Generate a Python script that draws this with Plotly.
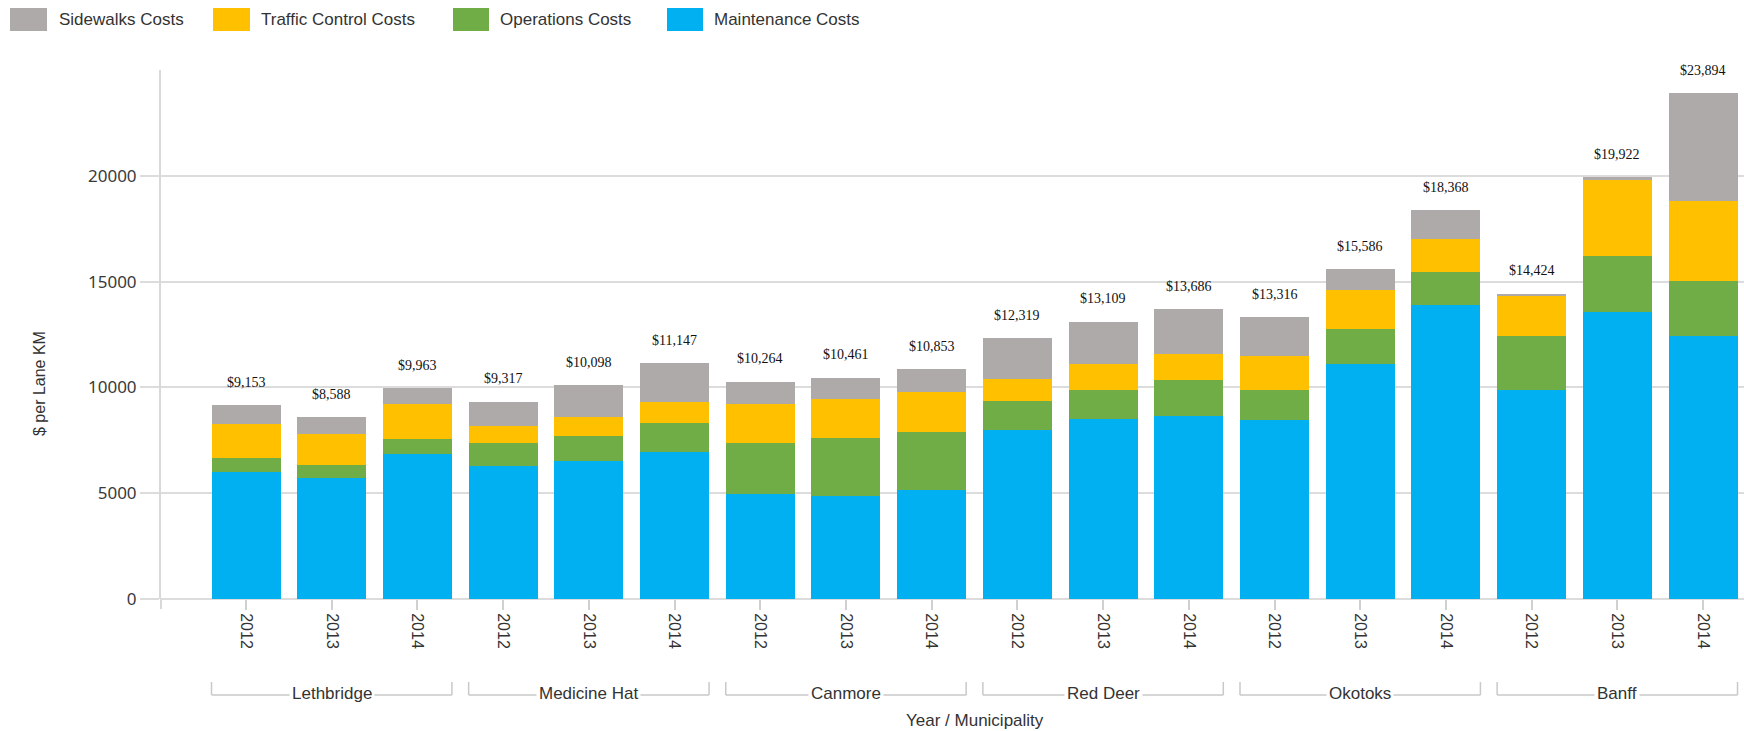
import plotly.graph_objects as go

# ---- data -------------------------------------------------------------
municipalities = ["Lethbridge", "Medicine Hat", "Canmore", "Red Deer", "Okotoks", "Banff"]
years = ["2012", "2013", "2014"]

maintenance = [6000, 5740, 6870, 6280, 6510, 6950, 4950, 4880, 5140,
               8000, 8510, 8670, 8440, 11120, 13890, 9900, 13540, 12410]
operations = [680, 600, 680, 1100, 1210, 1370, 2420, 2750, 2750,
              1360, 1390, 1670, 1440, 1620, 1550, 2510, 2680, 2600]
traffic_control = [1570, 1480, 1650, 790, 880, 980, 1830, 1840, 1910,
                   1050, 1220, 1220, 1590, 1860, 1560, 1894, 3560, 3810]
sidewalks = [903, 768, 763, 1147, 1498, 1847, 1064, 991, 1053,
             1909, 1989, 2126, 1846, 986, 1368, 120, 142, 5074]

series = [
    ("Maintenance Costs", maintenance, "#00B0F0"),
    ("Operations Costs", operations, "#70AD47"),
    ("Traffic Control Costs", traffic_control, "#FFC000"),
    ("Sidewalks Costs", sidewalks, "#ADAAA9"),
]

# ---- geometry helpers ---------------------------------------------------
W, H = 1744, 731
L, R, T, B = 161, 0, 70, 132
PW, PH = W - L - R, H - T - B


def px(x):
    return (x - L) / PW


def py(y):
    return (H - B - y) / PH


n = len(maintenance)
xs = list(range(n))
year_labels = [years[i % 3] for i in xs]
totals = [m + o + t + s for m, o, t, s in zip(maintenance, operations, traffic_control, sidewalks)]

fig = go.Figure()
for name, vals, color in series:
    fig.add_trace(go.Bar(
        x=xs, y=vals, name=name, width=0.805,
        marker=dict(color=color, line=dict(width=0)),
        showlegend=False,
    ))

# total labels above each stack
annotations = []
for i, tot in enumerate(totals):
    annotations.append(dict(
        x=i, y=tot, xref="x", yref="y", text=f"${tot:,}", showarrow=False,
        yanchor="middle", yshift=23,
        font=dict(family="Liberation Serif, serif", size=14, color="#111111"),
    ))

shapes = []
grey_line = "#c9c9c9"
# municipality brackets under the years
for g, name in enumerate(municipalities):
    x0, x1 = 3 * g - 0.4025, 3 * g + 2 + 0.4025
    for xx in (x0, x1):
        shapes.append(dict(type="line", xref="x", yref="paper", x0=xx, x1=xx,
                           y0=py(682), y1=py(695), line=dict(color=grey_line, width=1.5)))
    shapes.append(dict(type="line", xref="x", yref="paper", x0=x0, x1=x1,
                       y0=py(695), y1=py(695), line=dict(color=grey_line, width=1.5)))
    annotations.append(dict(
        x=3 * g + 1, y=py(693), xref="x", yref="paper", text=name, showarrow=False,
        bgcolor="white", borderpad=2, yanchor="middle",
        font=dict(family="Liberation Sans, Arial, sans-serif", size=17, color="#333333"),
    ))

# small extension of the value axis below zero
shapes.append(dict(type="line", xref="paper", yref="paper", x0=0, x1=0,
                   y0=0, y1=py(609), line=dict(color="#d9d9d9", width=2)))

# axis titles
annotations.append(dict(
    x=(0 + n - 1) / 2, y=py(720), xref="x", yref="paper", text="Year / Municipality",
    showarrow=False, yanchor="middle",
    font=dict(family="Liberation Sans, Arial, sans-serif", size=17, color="#333333"),
))
annotations.append(dict(
    x=px(39), y=py(384), xref="paper", yref="paper", text="$ per Lane KM",
    showarrow=False, textangle=-90, xanchor="center", yanchor="middle",
    font=dict(family="Liberation Sans, Arial, sans-serif", size=16, color="#333333"),
))

# legend drawn as swatches + labels along the top
legend_items = [
    ("Sidewalks Costs", "#ADAAA9", 10, 47, 57),
    ("Traffic Control Costs", "#FFC000", 213, 250, 259),
    ("Operations Costs", "#70AD47", 453, 489, 498),
    ("Maintenance Costs", "#00B0F0", 667, 703, 712),
]
for label, color, sx0, sx1, tx in legend_items:
    shapes.append(dict(type="rect", xref="paper", yref="paper",
                       x0=px(sx0), x1=px(sx1), y0=py(8), y1=py(31),
                       fillcolor=color, line=dict(width=0)))
    annotations.append(dict(
        x=px(tx), y=py(20), xref="paper", yref="paper", text=label, showarrow=False,
        xanchor="left", yanchor="middle",
        font=dict(family="Liberation Sans, Arial, sans-serif", size=17, color="#333333"),
    ))

fig.update_layout(
    width=W, height=H,
    margin=dict(l=L, r=R, t=T, b=B, pad=0),
    barmode="stack",
    plot_bgcolor="white", paper_bgcolor="white",
    shapes=shapes, annotations=annotations,
    showlegend=False,
)
fig.update_xaxes(
    range=[-0.992, n - 1 + 0.478],
    tickmode="array", tickvals=xs, ticktext=year_labels, tickangle=90,
    ticks="outside", ticklen=10, tickwidth=2, tickcolor="#d0d0d0",
    showgrid=False, showline=False, zeroline=False,
    tickfont=dict(family="Liberation Sans, Arial, sans-serif", size=16, color="#333333"),
)
fig.update_yaxes(
    range=[0, 25000],
    tickmode="array", tickvals=[0, 5000, 10000, 15000, 20000],
    ticktext=["0", "5000", "10000", "15000", "20000"],
    ticks="outside", ticklen=19, tickwidth=2, tickcolor="#dcdcdc",
    showgrid=True, gridcolor="#dcdcdc", gridwidth=2,
    zeroline=True, zerolinecolor="#dcdcdc", zerolinewidth=2,
    showline=True, linecolor="#d9d9d9", linewidth=2,
    tickfont=dict(family="Noto Sans, DejaVu Sans, sans-serif", size=17, color="#3a3a3a"),
)

fig.write_html("out.html")
